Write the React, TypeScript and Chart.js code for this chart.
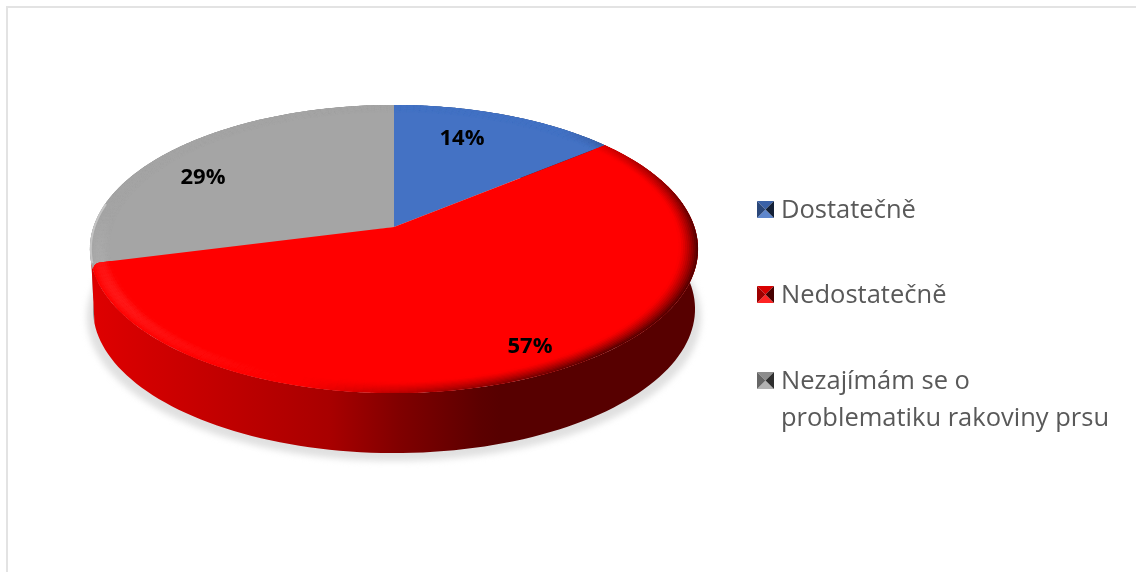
import React, { useEffect, useRef } from "react";
import { Chart, registerables } from "chart.js";

Chart.register(...registerables);

const categories = ["Dostatečně", "Nedostatečně", "Nezajímám se o problematiku rakoviny prsu"];
const shares = [14, 57, 29];
const percentLabels = ["14%", "57%", "29%"];
const sliceColors = ["#4472c4", "#ff0000", "#a5a5a5"];

const LABEL_AT = [[462, 139], [530, 347], [203, 178]];
const LEGEND_Y = [209, 294, 380];
const LEGEND_TEXT_DY = 1.5;
const LINE_H = 37;
const CX = 394, AP_Y = 227, KX = 300.5, P = 106, C = -0.1528, DEPTH = 60;
const LEGEND_FONT = '25.5px "Open Sans"';
const LABEL_FONT = 'bold 22px "Open Sans"';

const project = (u: number, v: number): [number, number] => {
  const w = 1 + C * v;
  return [CX + (KX * u) / w, (AP_Y + P * v) / w];
};
const rim = (a: number, r = 1) => project(r * Math.cos(a), r * Math.sin(a));
const lower = (p: [number, number]): [number, number] => [CX + (p[0] - CX) * 0.99, p[1] + DEPTH];
const rgb = (hex: string) => [1, 3, 5].map((i) => parseInt(hex.slice(i, i + 2), 16));
const css = (c: number[]) => `rgb(${c.map((x) => Math.round(Math.max(0, Math.min(255, x)))).join(",")})`;
const mix = (c: number[], t: number[], a: number) => c.map((x, i) => x + (t[i] - x) * a);
const sideStops: [number, number][] = [[95, 0.87], [230, 0.75], [330, 0.66], [400, 0.5], [480, 0.36], [500, 0.34], [700, 0.34]];

const pie3d = {
  id: "pie3d",
  beforeDraw(chart: any) {
    const ctx = chart.ctx;
    ctx.save();
    ctx.fillStyle = "#ffffff";
    ctx.fillRect(0, 0, chart.width, chart.height);
    ctx.fillStyle = "#e3e3e3";
    ctx.fillRect(6, 6, chart.width - 6, 2);
    ctx.fillRect(6, 6, 2, chart.height - 6);
    ctx.restore();
  },
  beforeDatasetDraw(chart: any, args: any) {
    const ctx = chart.ctx as CanvasRenderingContext2D;
    const arcs = chart.getDatasetMeta(args.index).data;
    const order = [2, 0, 1];

    // soft ground shadow
    ctx.save();
    ctx.filter = "blur(3px)";
    ctx.fillStyle = "#e0e0e0";
    ctx.beginPath();
    for (let i = 0; i <= 180; i++) {
      const p = lower(rim((i / 180) * Math.PI * 2));
      const x = CX + (p[0] - CX) * 1.02, y = p[1] + 8;
      i ? ctx.lineTo(x, y) : ctx.moveTo(x, y);
    }
    ctx.closePath();
    ctx.fill();
    ctx.restore();

    // sides
    for (const k of order) {
      const arc = arcs[k];
      const base = rgb(arc.options.backgroundColor);
      const g = ctx.createLinearGradient(90, 0, 700, 0);
      sideStops.forEach(([x, f]) => g.addColorStop((x - 90) / 610, css(base.map((c) => c * f))));
      const steps = 120;
      ctx.beginPath();
      for (let i = 0; i <= steps; i++) {
        const p = rim(arc.startAngle + ((arc.endAngle - arc.startAngle) * i) / steps);
        i ? ctx.lineTo(p[0], p[1]) : ctx.moveTo(p[0], p[1]);
      }
      for (let i = steps; i >= 0; i--) {
        const p = lower(rim(arc.startAngle + ((arc.endAngle - arc.startAngle) * i) / steps));
        ctx.lineTo(p[0], p[1]);
      }
      ctx.closePath();
      ctx.fillStyle = g;
      ctx.fill();
    }

    // top faces with bevel
    for (const k of order) {
      const arc = arcs[k];
      const base = rgb(arc.options.backgroundColor);
      const a1 = arc.endAngle;
      // the face that lies underneath runs on a little, so a rounded corner above it shows it
      const a0 = arc.startAngle - (k === 2 ? 0.06 : 0);
      const steps = Math.max(24, Math.round(((a1 - a0) / (Math.PI * 2)) * 240));
      ctx.save();
      ctx.beginPath();
      const ap = project(0, 0);
      ctx.moveTo(ap[0], ap[1]);
      const rounded = k === 1;
      const stopAt = rounded ? a1 - 0.035 : a1;
      for (let i = 0; i <= steps; i++) {
        const p = rim(a0 + ((stopAt - a0) * i) / steps);
        ctx.lineTo(p[0], p[1]);
      }
      if (rounded) {
        const tip = rim(a1);
        ctx.arcTo(tip[0], tip[1], ap[0], ap[1], 7);
      }
      ctx.closePath();
      ctx.fillStyle = css(base);
      ctx.fill();
      ctx.clip();
      const N = 10, band = 0.062;
      for (let ring = 0; ring < N; ring++) {
        const t = (ring + 0.5) / N;
        const rA = 1 - (band * ring) / N, rB = 1 - (band * (ring + 1)) / N;
        for (let i = 0; i < steps; i++) {
          const b0 = a0 + ((a1 - a0) * i) / steps, b1 = a0 + ((a1 - a0) * (i + 1)) / steps;
          const m = (b0 + b1) / 2;
          const cu = Math.cos(m), sv = Math.sin(m);
          const d = 0.85 * cu + 0.45 * sv - 0.2;
          const lowerLeft = Math.max(0, Math.min(1, (sv + 0.1) / 0.6));
          let col = base;
          if (d > 0) col = mix(base, [0, 0, 0], Math.min(1, d * 1.5) * 0.72 * Math.pow(1 - t, 1.3));
          else col = mix(base, [255, 255, 255], Math.min(1, -d) * 0.14 * lowerLeft * Math.sin(Math.PI * t));
          const s = css(col);
          ctx.fillStyle = s;
          ctx.strokeStyle = s;
          ctx.lineWidth = 0.7;
          const q = [rim(b0, rA), rim(b1, rA), rim(b1, rB), rim(b0, rB)];
          ctx.beginPath();
          q.forEach((p, j) => (j ? ctx.lineTo(p[0], p[1]) : ctx.moveTo(p[0], p[1])));
          ctx.closePath();
          ctx.fill();
          ctx.stroke();
        }
      }
      ctx.restore();
    }
    // pale lip on the far-left edge of the grey slice
    const grey = arcs[2];
    ctx.save();
    ctx.strokeStyle = "#c4c4c4";
    ctx.lineWidth = 2;
    ctx.filter = "blur(0.6px)";
    ctx.beginPath();
    const from = grey.startAngle, to = grey.startAngle + 0.42;
    for (let i = 0; i <= 24; i++) {
      const p = rim(from + ((to - from) * i) / 24, 0.997);
      i ? ctx.lineTo(p[0], p[1]) : ctx.moveTo(p[0], p[1]);
    }
    ctx.stroke();
    ctx.restore();
    return false;
  },
  afterDatasetsDraw(chart: any) {
    const ctx = chart.ctx as CanvasRenderingContext2D;
    ctx.save();
    ctx.textBaseline = "middle";
    ctx.textAlign = "center";
    ctx.font = LABEL_FONT;
    ctx.fillStyle = "#000000";
    percentLabels.forEach((t, i) => ctx.fillText(t, LABEL_AT[i][0], LABEL_AT[i][1]));

    // legend
    ctx.textAlign = "left";
    ctx.font = LEGEND_FONT;
    chart.data.labels.forEach((label: string, i: number) => {
      const lines: string[] = [];
      let cur = "";
      label.split(" ").forEach((w) => {
        const next = cur ? cur + " " + w : w;
        if (ctx.measureText(next).width > 335 && cur) {
          lines.push(cur);
          cur = w;
        } else cur = next;
      });
      lines.push(cur);
      const y = LEGEND_Y[i];
      lines.forEach((ln, j) => {
        ctx.fillStyle = "#595959";
        ctx.fillText(ln, 781, y + LEGEND_TEXT_DY + j * LINE_H);
      });
      // bevelled key
      const c = rgb(sliceColors[i]);
      const x0 = 757, y0 = y - 8, s = 17, bw = 8.5;
      const tri = (pts: number[][], col: string) => {
        ctx.beginPath();
        pts.forEach((p, j) => (j ? ctx.lineTo(p[0], p[1]) : ctx.moveTo(p[0], p[1])));
        ctx.closePath();
        ctx.fillStyle = col;
        ctx.fill();
      };
      const m = [x0 + bw, y0 + bw];
      tri([[x0, y0], [x0 + s, y0], m], css(c.map((v) => v * 0.85)));
      tri([[x0, y0 + s], [x0 + s, y0 + s], m], css(mix(c, [255, 255, 255], 0.14)));
      tri([[x0, y0], [x0, y0 + s], m], css(c.map((v) => v * 0.62)));
      tri([[x0 + s, y0], [x0 + s, y0 + s], m], css(c.map((v) => v * 0.28)));
    });
    ctx.restore();
  },
};

export default function App() {
  const ref = useRef<HTMLCanvasElement>(null);
  useEffect(() => {
    document.body.style.margin = "0";
    const chart = new Chart(ref.current!, {
      type: "pie",
      data: {
        labels: categories,
        datasets: [{ data: shares, backgroundColor: sliceColors, borderWidth: 0 }],
      },
      options: {
        animation: false,
        responsive: false,
        plugins: { legend: { display: false }, tooltip: { enabled: false } },
      },
      plugins: [pie3d],
    } as any);
    return () => chart.destroy();
  }, []);
  return <canvas ref={ref} width={1136} height={572} style={{ display: "block" }} />;
}
